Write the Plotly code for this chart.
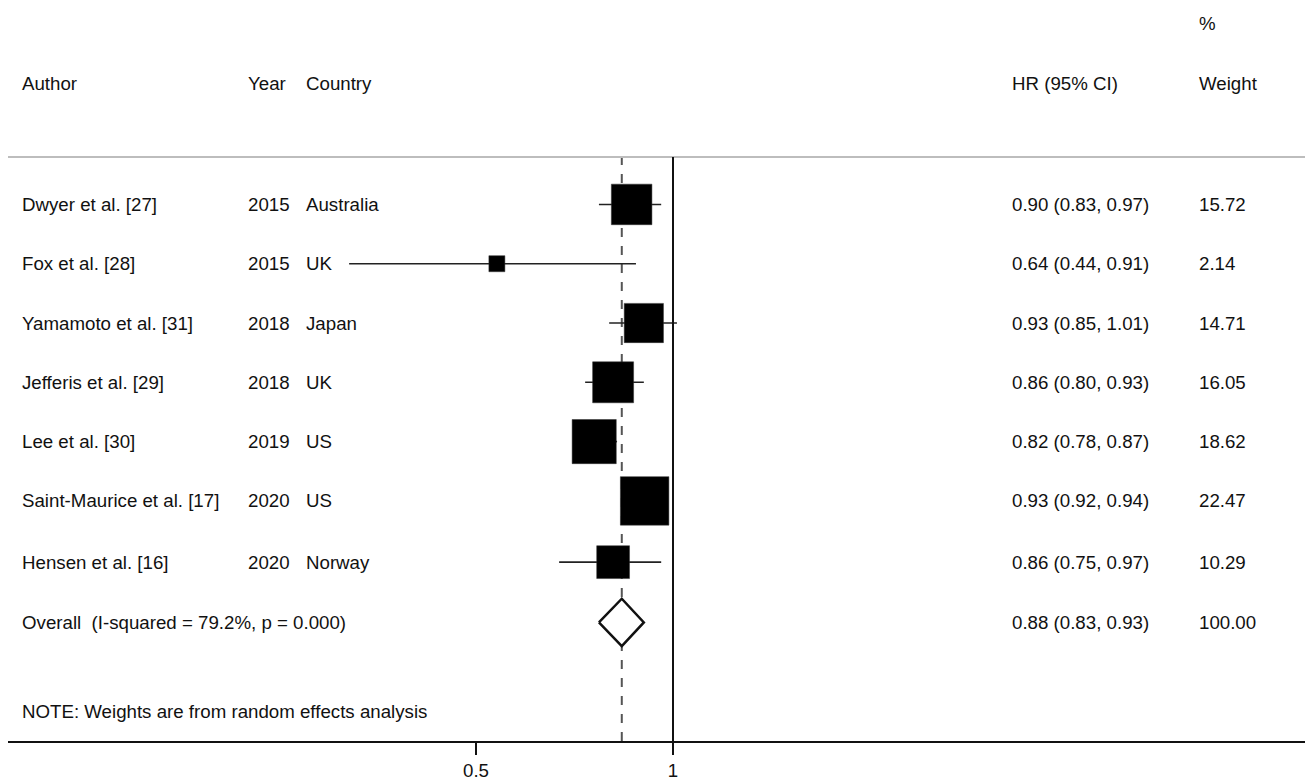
import plotly.graph_objects as go

# ---- data ----
authors = ["Dwyer et al. [27]", "Fox et al. [28]", "Yamamoto et al. [31]", "Jefferis et al. [29]",
           "Lee et al. [30]", "Saint-Maurice et al. [17]", "Hensen et al. [16]"]
years = ["2015", "2015", "2018", "2018", "2019", "2020", "2020"]
countries = ["Australia", "UK", "Japan", "UK", "US", "US", "Norway"]
hr_labels = ["0.90 (0.83, 0.97)", "0.64 (0.44, 0.91)", "0.93 (0.85, 1.01)", "0.86 (0.80, 0.93)",
             "0.82 (0.78, 0.87)", "0.93 (0.92, 0.94)", "0.86 (0.75, 0.97)"]
weights = [15.72, 2.14, 14.71, 16.05, 18.62, 22.47, 10.29]
weight_labels = ["15.72", "2.14", "14.71", "16.05", "18.62", "22.47", "10.29"]
# plotted positions (linear axis)
hr_plot = [0.895, 0.553, 0.926, 0.848, 0.80, 0.928, 0.848]
lo_plot = [0.812, 0.178, 0.838, 0.777, 0.78, 0.92, 0.711]
hi_plot = [0.970, 0.906, 1.010, 0.926, 0.858, 0.935, 0.970]

overall_label = "Overall  (I-squared = 79.2%, p = 0.000)"
overall_hr_label = "0.88 (0.83, 0.93)"
overall_weight_label = "100.00"
overall_hr, overall_lo, overall_hi = 0.870, 0.812, 0.926

note = "NOTE: Weights are from random effects analysis"
tick_vals = [0.5, 1]
tick_text = ["0.5", "1"]

# ---- layout geometry (page pixels; body margin removed in post_script) ----
FONT = "Liberation Sans, Arial, sans-serif"
FS = 18.7
W, H = 1305, 781
AX_Y = 748          # axis line
HDR_Y = 157         # header separator
X_LEFT_PX, X_RIGHT_PX = 8, 1305
T = HDR_Y
B = H - AX_Y
L = X_LEFT_PX
R = W - X_RIGHT_PX
plot_h = H - T - B
plot_w = W - L - R
row_px = [205, 265, 325, 385, 445, 505, 567]
overall_px = 628
note_px = 718
ROW0, STEP = 205, 60.4
TX = 2  # annotation padding


def ypx_to_row(p):
    return (p - ROW0) / STEP


def xpx_to_paper(p):
    return (p - TX - L) / plot_w


def ypx_to_paper(p):
    return (AX_Y - p) / plot_h


rows = [ypx_to_row(p) for p in row_px]
orow = ypx_to_row(overall_px)
y_top = ypx_to_row(HDR_Y)
y_bot = ypx_to_row(AX_Y)

x_left = 1 - (673 - X_LEFT_PX) / 394.0
x_right = 1 + (X_RIGHT_PX - 673) / 394.0

fig = go.Figure()

# CI lines
cx, cy = [], []
for lo, hi, r in zip(lo_plot, hi_plot, rows):
    cx += [lo, hi, None]
    cy += [r, r, None]
fig.add_trace(go.Scatter(x=cx, y=cy, mode="lines", line=dict(color="#222", width=1.6),
                         hoverinfo="skip", showlegend=False))

# boxes
k = 48.5 / (22.47 ** 0.5)
sizes = [max(k * w ** 0.5, 16) for w in weights]
fig.add_trace(go.Scatter(x=hr_plot, y=rows, mode="markers",
                         marker=dict(symbol="square", size=sizes, color="black", opacity=1,
                                     line=dict(color="#333", width=0.5)),
                         showlegend=False))

# diamond
dh = 24 / STEP
fig.add_trace(go.Scatter(x=[overall_lo, overall_hr, overall_hi, overall_hr, overall_lo],
                         y=[orow, orow - dh, orow, orow + dh, orow],
                         mode="lines", fill="toself", fillcolor="white",
                         line=dict(color="#111", width=2.5), showlegend=False))

shapes = [
    dict(type="line", xref="paper", yref="paper", x0=0, x1=1, y0=1, y1=1,
         line=dict(color="#bdbdbd", width=2)),
    dict(type="line", xref="x", yref="paper", x0=1, x1=1, y0=0, y1=1,
         line=dict(color="#111", width=2)),
    dict(type="line", xref="x", yref="paper", x0=overall_hr, x1=overall_hr, y0=0, y1=1,
         line=dict(color="#555", width=2, dash="dash"), layer="below"),
]

ann = []


def txt(xp, yp, s):
    ann.append(dict(x=xpx_to_paper(xp), y=ypx_to_paper(yp), xref="paper", yref="paper",
                    text=s, showarrow=False, xanchor="left", yanchor="middle",
                    font=dict(family=FONT, size=FS, color="#111")))


txt(22, 83, "Author")
txt(248, 83, "Year")
txt(306, 83, "Country")
txt(1012, 83, "HR (95% CI)")
txt(1199, 22, "%")
txt(1199, 83, "Weight")

for i, p in enumerate(row_px):
    txt(22, p, authors[i])
    txt(248, p, years[i])
    txt(306, p, countries[i])
    txt(1012, p, hr_labels[i])
    txt(1199, p, weight_labels[i])

txt(22, overall_px, overall_label)
txt(1012, overall_px, overall_hr_label)
txt(1199, overall_px, overall_weight_label)
txt(22, note_px, note)

fig.update_layout(
    width=W, height=H,
    margin=dict(l=L, r=R, t=T, b=B, pad=0),
    paper_bgcolor="white", plot_bgcolor="white",
    shapes=shapes, annotations=ann,
    font=dict(family=FONT, size=FS, color="#111"),
    hovermode=False,
    xaxis=dict(range=[x_left, x_right], tickvals=tick_vals, ticktext=tick_text,
               showgrid=False, zeroline=False, showline=True, linecolor="#111", linewidth=2,
               ticks="outside", ticklen=12, tickwidth=2, tickcolor="#111",
               tickfont=dict(family=FONT, size=FS, color="#111"), fixedrange=True),
    yaxis=dict(range=[y_bot, y_top], visible=False, showgrid=False, zeroline=False,
               fixedrange=True),
    showlegend=False,
)

fig.write_html("out.html",
               config={"displayModeBar": False, "staticPlot": True},
               post_script="document.body.style.margin='0';document.body.style.overflow='hidden';")
